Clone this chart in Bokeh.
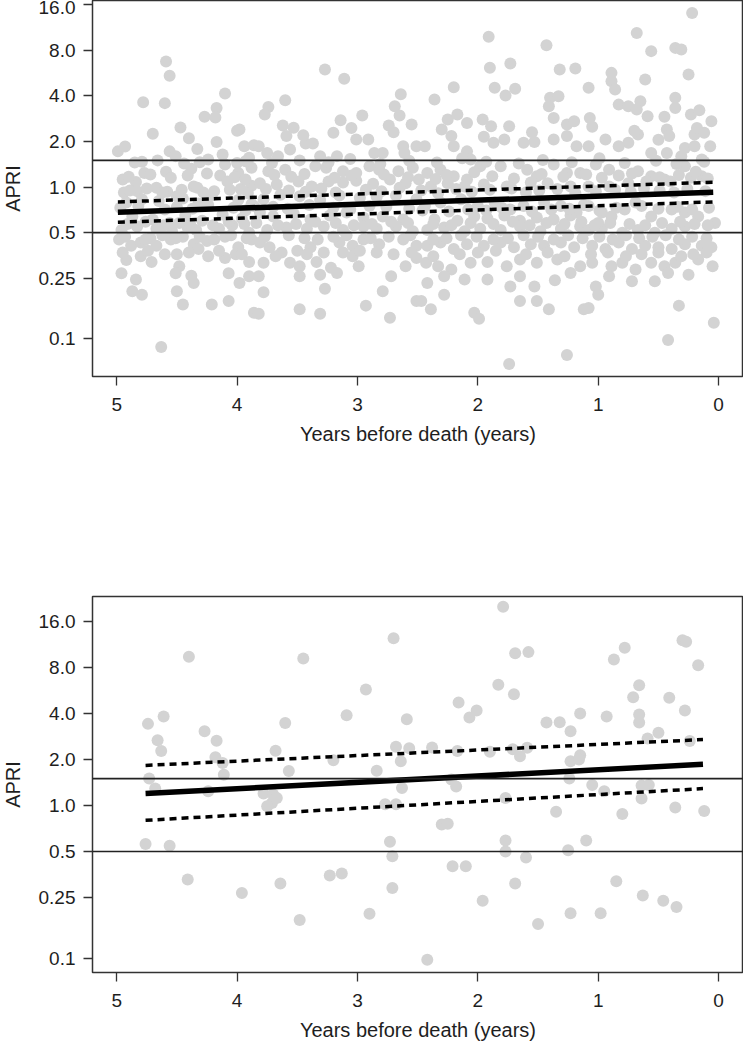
from bokeh.plotting import figure
from bokeh.models import Range1d, FixedTicker, Span
from bokeh.layouts import column
from bokeh.embed import file_html
from bokeh.resources import INLINE

# ---------------- data ----------------
y_ticks = [0.1, 0.25, 0.5, 1.0, 2.0, 4.0, 8.0, 16.0]
y_tick_labels = ["0.1", "0.25", "0.5", "1.0", "2.0", "4.0", "8.0", "16.0"]
x_ticks = [0, 1, 2, 3, 4, 5]
x_title = "Years before death (years)"
y_title = "APRI"
ref_levels = [0.5, 1.5]

top_years = [
    4.59, 4.56, 4.78, 4.60, 4.10, 4.17, 4.27, 4.18, 4.47, 3.98, 4.17, 4.33, 3.94, 3.86, 4.99, 4.93, 4.56, 4.51,
    4.79, 4.77, 4.59, 4.38, 4.31, 4.12, 4.10, 4.00, 3.90, 3.88, 3.99,
    4.95, 4.84, 4.94, 4.83, 4.67, 4.58, 4.50, 4.36, 4.28, 4.21, 4.14, 4.08, 4.06, 3.97, 3.88,
    4.92, 4.79, 4.65, 4.45, 4.32, 3.99, 3.88,
    4.87, 4.70, 4.56, 4.43, 4.29, 4.12, 3.96,
    4.96, 4.83, 4.67, 4.54, 4.41, 4.34, 4.15, 4.04, 3.90,
    4.98, 4.88, 4.80, 4.72, 4.67, 4.55, 4.45, 4.36, 4.25, 4.10, 3.99, 3.88,
    4.92, 4.80, 4.71, 4.50, 4.48, 4.32, 4.10, 4.01, 3.90,
    4.96, 4.84, 4.51, 4.38, 4.36, 4.07, 3.98, 3.90,
    4.87, 4.79, 4.50, 4.45, 4.21, 4.07, 3.86, 4.63,
    3.27, 3.11, 3.60, 3.74, 3.77, 2.64, 2.69, 2.65, 2.96, 3.14, 2.74, 2.55, 3.62, 3.53, 3.59, 3.20, 3.01, 2.91,
    3.43, 3.37, 3.82, 3.56, 3.75, 2.62, 2.61, 2.51, 3.31, 3.17, 2.86, 2.79, 3.66,
    3.74, 3.60, 3.35, 3.26, 3.12, 3.01, 2.90, 2.82, 2.66, 2.54,
    3.81, 3.67, 3.49, 3.38, 3.24, 3.12, 3.01, 2.87, 2.73, 2.60, 2.49,
    3.78, 3.64, 3.48, 3.31, 3.15, 2.98, 2.84, 2.68, 2.51,
    3.81, 3.70, 3.53, 3.39, 3.23, 3.09, 2.95, 2.79, 2.62,
    3.75, 3.59, 3.42, 3.28, 3.12, 2.95, 2.84, 2.68, 2.54,
    3.81, 3.73, 3.63, 3.50, 3.39, 3.28, 3.15, 3.04, 2.95, 2.82, 2.62, 2.51,
    3.78, 3.56, 3.48, 3.34, 3.22, 3.04, 2.84, 2.60, 2.51,
    3.82, 3.48, 3.31, 3.17, 2.99, 2.72,
    3.78, 3.27, 2.79, 2.51,
    3.82, 3.48, 3.31, 2.93, 2.73,
    1.91, 1.43, 1.90, 1.73, 1.32, 1.19, 2.20, 1.86, 1.77, 1.69, 2.36, 1.40, 1.41, 1.33, 1.37, 2.25, 2.17, 2.09,
    1.96, 1.89, 1.74, 1.26, 1.20, 2.44, 2.22, 2.20, 2.09, 1.87, 1.78, 1.62, 1.53, 1.37, 1.26, 1.18, 2.06,
    2.42, 2.31, 2.20, 2.09, 1.98, 1.81, 1.59, 1.51, 1.37, 1.26, 1.15,
    2.39, 2.25, 2.11, 1.95, 1.76, 1.56, 1.42, 1.23,
    2.44, 2.31, 2.14, 2.00, 1.86, 1.73, 1.62, 1.45, 1.31, 1.18,
    2.36, 2.17, 2.03, 1.92, 1.78, 1.65, 1.51, 1.37, 1.23,
    2.42, 2.28, 2.11, 1.98, 1.81, 1.65, 1.48, 1.31, 1.15,
    2.42, 2.31, 2.20, 2.09, 1.95, 1.81, 1.70, 1.56, 1.45, 1.31, 1.20,
    2.43, 2.33, 2.22, 2.06, 1.92, 1.76, 1.65, 1.51, 1.34, 1.15,
    2.42, 2.28, 2.11, 1.92, 1.73, 1.65, 1.53, 1.36, 1.23,
    2.28, 2.47, 2.39, 2.03, 1.99, 1.65, 1.51, 1.41, 1.12, 1.74, 1.26,
    0.22, 0.68, 0.56, 0.36, 0.31, 0.25, 0.61, 0.89, 0.89, 0.86, 1.08, 0.36, 0.36, 0.83, 0.75, 0.65, 0.68, 0.59,
    0.45, 0.23, 0.16, 0.06, 1.07, 0.20, 0.12, 0.43, 0.41, 0.67, 0.75, 0.83, 0.94, 1.08, 0.56, 0.43, 0.28, 0.20,
    0.07, 0.31, 0.14,
    1.02, 0.91, 0.67, 0.56, 0.45, 0.28, 0.14,
    1.08, 0.91, 0.75, 0.60, 0.40, 0.23,
    1.08, 0.97, 0.89, 0.78, 0.69, 0.56, 0.39, 0.28, 0.17, 0.03,
    1.08, 0.97, 0.80, 0.67, 0.53, 0.39, 0.28, 1.00,
    1.05, 0.94, 0.83, 0.72, 0.61, 0.50, 0.39, 0.28, 0.14, 0.06,
    1.05, 0.89, 0.80, 0.69, 0.56, 0.45, 0.36, 0.17, 0.05,
    1.02, 0.91, 0.72, 0.53, 0.42, 0.25,
    1.00, 1.08, 0.33, 0.04, 0.42,
    4.90, 4.72, 4.55, 4.41, 4.25, 4.02, 3.93, 3.69, 3.55, 3.44, 3.19, 3.05, 2.78, 2.58, 2.35, 2.26, 2.03, 1.88,
    1.70, 1.47, 1.29, 1.10, 0.97, 0.83, 0.72, 0.49, 0.33, 0.19, 0.09,
    4.89, 4.75, 4.62, 4.46, 4.33, 4.19, 3.91, 3.76, 3.57, 3.43, 3.30, 3.18, 2.93, 2.80, 2.65, 2.47, 2.33, 2.18,
    2.05, 1.90, 1.72, 1.60, 1.49, 1.34, 1.19, 1.02, 0.86, 0.73, 0.62, 0.49, 0.37, 0.26, 0.11,
    4.97, 4.82, 4.60, 4.50, 4.37, 4.24, 4.03, 3.93, 3.86, 3.70, 3.58, 3.40, 3.20, 3.06, 2.90, 2.76, 2.57, 2.46,
    2.24, 2.08, 1.93, 1.80, 1.55, 1.39, 1.24, 1.12, 0.99, 0.85, 0.64, 0.50, 0.34, 0.22, 0.08,
    4.91, 4.76, 4.61, 4.48, 4.39, 4.20, 4.07, 3.94, 3.84, 3.66, 3.51, 3.35, 3.18, 3.03, 2.88, 2.72, 2.58, 2.37,
    2.22, 2.06, 1.87, 1.71, 1.57, 1.43, 1.28, 1.14, 1.03, 0.90, 0.74, 0.61, 0.47, 0.32, 0.20, 0.09,
    4.93, 4.76, 4.62, 4.51, 4.31, 4.19, 4.05, 3.92, 3.77, 3.57, 3.44, 3.33, 3.20, 3.09, 2.89, 2.74, 2.56, 2.37,
    2.26, 2.14, 2.01, 1.87, 1.75, 1.62, 1.50, 1.37, 1.25, 1.13, 0.99, 0.88, 0.77, 0.66, 0.55, 0.44, 0.33, 0.22, 0.10,
    4.95, 4.74, 4.60, 4.40, 4.24, 4.15, 3.96, 3.68, 3.42, 3.12, 2.98, 2.70, 2.55, 2.37, 2.15, 2.00, 1.85, 1.60,
    1.42, 1.28, 1.06, 0.92, 0.77, 0.64, 0.50, 0.31, 0.21, 0.10,
    4.85, 4.66, 4.44, 4.24, 3.93, 3.71, 3.48, 3.24, 3.06, 2.81, 2.57, 2.34, 2.13, 1.93, 1.66, 1.46, 1.22, 0.99,
    0.78, 0.52, 0.35, 0.12,
    4.70, 4.40, 4.00, 3.45, 3.05, 2.70, 2.30, 1.95, 1.55, 1.05, 0.70, 0.50, 0.18,
]
top_apri = [
    6.74, 5.42, 3.63, 3.58, 4.14, 3.33, 2.91, 2.88, 2.47, 2.40, 1.98, 1.78, 1.86, 1.89, 1.72, 1.85, 1.72, 1.60,
    1.47, 1.24, 1.26, 1.32, 1.46, 1.64, 1.41, 1.44, 1.56, 1.34, 1.24,
    1.12, 1.08, 0.92, 0.94, 0.99, 0.93, 0.87, 1.01, 0.92, 0.88, 1.19, 1.09, 0.96, 0.97, 1.02,
    0.79, 0.83, 0.81, 0.84, 0.78, 0.82, 0.77,
    0.64, 0.61, 0.58, 0.65, 0.60, 0.66, 0.62,
    0.52, 0.55, 0.53, 0.51, 0.54, 0.52, 0.53, 0.56, 0.50,
    0.45, 0.41, 0.43, 0.46, 0.41, 0.45, 0.47, 0.42, 0.44, 0.47, 0.40, 0.45,
    0.33, 0.35, 0.32, 0.36, 0.30, 0.39, 0.34, 0.36, 0.32,
    0.27, 0.245, 0.27, 0.26, 0.233, 0.27, 0.233, 0.258,
    0.205, 0.195, 0.205, 0.168, 0.168, 0.177, 0.148, 0.088,
    5.97, 5.18, 3.74, 3.38, 3.01, 4.10, 3.42, 2.97, 2.97, 2.76, 2.55, 2.59, 2.55, 2.46, 2.17, 2.28, 2.06, 2.06,
    1.94, 1.94, 1.86, 1.77, 1.68, 1.86, 1.68, 1.86, 1.60, 1.60, 1.68, 1.68, 1.60,
    1.27, 1.30, 1.37, 1.34, 1.27, 1.24, 1.37, 1.30, 1.27, 1.34,
    1.06, 1.04, 1.09, 1.01, 1.09, 1.07, 1.10, 1.05, 1.12, 1.06, 1.12,
    0.83, 0.89, 0.87, 0.82, 0.88, 0.85, 0.86, 0.88, 0.83,
    0.68, 0.64, 0.67, 0.61, 0.65, 0.68, 0.63, 0.64, 0.61,
    0.52, 0.54, 0.53, 0.55, 0.52, 0.55, 0.53, 0.55, 0.51,
    0.43, 0.40, 0.37, 0.38, 0.40, 0.37, 0.43, 0.41, 0.45, 0.42, 0.45, 0.41,
    0.316, 0.316, 0.30, 0.32, 0.293, 0.35, 0.37, 0.30, 0.34,
    0.258, 0.258, 0.264, 0.271, 0.30, 0.258,
    0.202, 0.213, 0.205, 0.177,
    0.146, 0.156, 0.146, 0.165, 0.137,
    9.80, 8.63, 6.12, 6.53, 5.97, 6.06, 4.56, 4.52, 4.02, 4.45, 3.78, 3.88, 3.42, 3.97, 2.86, 2.79, 3.01, 2.65,
    2.79, 2.52, 2.52, 2.59, 2.72, 1.86, 2.17, 1.86, 1.72, 1.96, 2.06, 1.96, 1.98, 2.06, 2.17, 1.86, 1.52,
    1.24, 1.30, 1.18, 1.12, 1.37, 1.37, 1.30, 1.18, 1.41, 1.24, 1.24,
    1.01, 1.06, 1.01, 1.04, 1.01, 1.07, 1.06, 1.01,
    0.75, 0.79, 0.83, 0.75, 0.79, 0.71, 0.75, 0.79, 0.75, 0.68,
    0.61, 0.60, 0.64, 0.62, 0.65, 0.60, 0.63, 0.61, 0.65,
    0.52, 0.54, 0.51, 0.53, 0.52, 0.55, 0.51, 0.53, 0.55,
    0.41, 0.43, 0.39, 0.42, 0.41, 0.43, 0.40, 0.42, 0.41, 0.43, 0.40,
    0.316, 0.30, 0.286, 0.316, 0.32, 0.30, 0.332, 0.316, 0.332, 0.30,
    0.233, 0.258, 0.245, 0.245, 0.221, 0.258, 0.221, 0.243, 0.271,
    0.195, 0.177, 0.156, 0.148, 0.135, 0.177, 0.177, 0.156, 0.156, 0.068, 0.078,
    14.1, 10.4, 7.89, 8.29, 8.08, 5.53, 5.13, 5.67, 5.00, 4.40, 4.52, 3.88, 3.33, 3.50, 3.42, 3.69, 3.25, 2.93,
    2.91, 3.01, 3.21, 2.72, 2.86, 2.22, 2.28, 2.40, 2.17, 2.22, 1.96, 1.86, 2.06, 1.86, 1.68, 1.68, 1.81, 1.86,
    1.86, 1.60, 1.52,
    1.41, 1.30, 1.27, 1.18, 1.12, 1.37, 1.18,
    1.01, 1.01, 1.06, 1.09, 1.09, 1.15,
    0.75, 0.68, 0.64, 0.71, 0.79, 0.64, 0.71, 0.68, 0.64, 0.58,
    0.52, 0.53, 0.50, 0.52, 0.50, 0.53, 0.55, 0.58,
    0.41, 0.39, 0.43, 0.39, 0.41, 0.40, 0.39, 0.42, 0.41, 0.40,
    0.316, 0.30, 0.316, 0.286, 0.316, 0.30, 0.316, 0.332, 0.30,
    0.221, 0.258, 0.239, 0.239, 0.271, 0.264,
    0.195, 0.159, 0.165, 0.127, 0.098,
    1.17, 1.21, 1.15, 1.19, 1.23, 1.16, 1.12, 1.20, 1.17, 1.22, 1.15, 1.19, 1.21, 1.16, 1.13, 1.20, 1.25, 1.18,
    1.14, 1.22, 1.17, 1.21, 1.15, 1.19, 1.23, 1.16, 1.20, 1.26, 1.14,
    0.95, 0.98, 0.92, 0.96, 0.99, 0.94, 0.91, 0.97, 0.95, 0.93, 0.98, 0.92, 0.96, 0.94, 0.99, 0.95, 0.91, 0.97,
    0.93, 0.96, 0.98, 0.92, 0.95, 0.97, 0.91, 0.94, 0.96, 0.93, 0.98, 0.95, 0.92, 0.97, 0.94,
    0.73, 0.75, 0.71, 0.74, 0.72, 0.76, 0.73, 0.70, 0.75, 0.74, 0.72, 0.76, 0.73, 0.71, 0.75, 0.74, 0.72, 0.70,
    0.69, 0.71, 0.70, 0.73, 0.69, 0.71, 0.72, 0.76, 0.70, 0.73, 0.75, 0.72, 0.74, 0.71, 0.73,
    0.57, 0.59, 0.56, 0.58, 0.57, 0.56, 0.59, 0.57, 0.58, 0.56, 0.57, 0.59, 0.58, 0.56, 0.57, 0.59, 0.58, 0.57,
    0.56, 0.58, 0.57, 0.59, 0.56, 0.58, 0.57, 0.59, 0.56, 0.58, 0.57, 0.56, 0.58, 0.59, 0.57, 0.56,
    0.47, 0.45, 0.48, 0.46, 0.47, 0.45, 0.48, 0.46, 0.47, 0.48, 0.46, 0.45, 0.47, 0.48, 0.46, 0.47, 0.48, 0.45,
    0.46, 0.48, 0.47, 0.45, 0.46, 0.48, 0.47, 0.45, 0.48, 0.46, 0.47, 0.45, 0.48, 0.46, 0.47, 0.48, 0.45, 0.47, 0.46,
    0.37, 0.38, 0.36, 0.37, 0.35, 0.38, 0.36, 0.35, 0.36, 0.37, 0.38, 0.36, 0.37, 0.35, 0.36, 0.37, 0.38, 0.36,
    0.37, 0.35, 0.36, 0.37, 0.35, 0.36, 0.37, 0.35, 0.36, 0.37,
    1.45, 1.50, 1.43, 1.52, 1.48, 1.44, 1.50, 1.46, 1.53, 1.42, 1.49, 1.45, 1.55, 1.47, 1.43, 1.51, 1.46, 1.55,
    1.44, 1.49, 1.42, 1.47,
    2.25, 2.10, 2.35, 2.20, 2.45, 2.30, 2.40, 2.15, 2.30, 2.50, 2.35, 2.05, 2.45,
]
top_fit_years = [4.99, 0.045]
top_fit = [0.682, 0.924]
top_upper = [0.798, 1.075]
top_lower = [0.586, 0.798]

bottom_years = [
    4.40, 3.45, 2.70, 2.93, 4.74, 4.61, 4.66, 4.63, 4.27, 4.17, 4.18, 4.12, 4.11, 3.60, 3.68, 3.57, 3.09, 2.59,
    2.68, 2.57, 2.64, 3.20, 2.84, 4.73, 4.68, 4.24, 3.78, 3.70, 3.67, 3.71, 3.75, 2.63, 2.77, 2.68, 4.76, 4.56,
    2.73, 2.71, 4.41, 3.96, 3.64, 3.23, 3.13, 2.71, 2.90, 3.48,
    1.79, 1.69, 1.58, 1.83, 1.70, 2.16, 2.01, 2.07, 1.43, 1.32, 1.15, 1.23, 0.93, 0.87, 0.78, 0.30, 0.27, 0.17,
    0.66, 0.71, 0.41, 0.66, 0.66, 0.28, 0.50, 0.59, 0.24, 2.38, 2.17, 1.90, 1.71, 1.65, 1.59, 1.23, 1.15, 1.16,
    1.24, 2.22, 2.18, 1.77, 1.05, 0.95, 0.64, 0.58, 0.64, 0.36, 0.12, 1.35, 0.80, 2.30, 2.25, 1.77, 1.77, 1.60,
    1.25, 1.10, 2.21, 2.10, 1.69, 1.96, 0.85, 0.63, 0.46, 0.35, 1.23, 0.98, 1.50, 2.42,
]
bottom_apri = [
    9.40, 9.16, 12.44, 5.74, 3.42, 3.82, 2.67, 2.27, 3.06, 2.65, 2.07, 1.90, 1.59, 3.46, 2.28, 1.68, 3.90, 3.67,
    2.42, 2.37, 1.95, 1.98, 1.69, 1.50, 1.29, 1.24, 1.20, 1.18, 1.12, 1.04, 0.99, 1.30, 1.02, 1.02, 0.56, 0.545,
    0.58, 0.466, 0.328, 0.268, 0.309, 0.348, 0.359, 0.289, 0.196, 0.178,
    20.0, 9.92, 10.08, 6.16, 5.35, 4.72, 4.18, 3.77, 3.49, 3.51, 4.00, 3.06, 3.82, 9.03, 10.77, 12.07, 11.79, 8.28,
    6.13, 5.11, 5.07, 3.94, 3.49, 4.18, 2.99, 2.74, 2.64, 2.40, 2.27, 2.25, 2.33, 2.10, 2.39, 1.95, 2.13, 2.00,
    1.50, 1.48, 1.33, 1.12, 1.36, 1.24, 1.35, 1.36, 1.11, 0.97, 0.92, 0.91, 0.88, 0.75, 0.76, 0.59, 0.50, 0.457,
    0.51, 0.59, 0.40, 0.40, 0.309, 0.238, 0.32, 0.258, 0.238, 0.217, 0.197, 0.197, 0.168, 0.098,
]
bottom_fit_years = [4.76, 0.13]
bottom_fit = [1.20, 1.86]
bottom_upper = [1.83, 2.70]
bottom_lower = [0.80, 1.29]

FONT = "Liberation Sans"
INK = "#1e1e1e"


def make_panel(years, apri, fit_years, fit, upper, lower, y_lo, y_hi, height, border_top, border_bottom):
    n = min(len(years), len(apri))
    p = figure(width=745, height=height,
               x_range=Range1d(5.2008, -0.2066), y_range=Range1d(y_lo, y_hi),
               y_axis_type="log", output_backend="svg", toolbar_location=None,
               min_border_left=89, min_border_right=0,
               min_border_top=border_top, min_border_bottom=border_bottom)
    p.grid.visible = False
    p.outline_line_color = "#333333"
    p.outline_line_width = 1.5
    p.background_fill_color = "white"
    p.border_fill_color = "white"

    p.scatter(years[:n], apri[:n], size=12, fill_color="#d3d3d3", line_color=None)
    for lv in ref_levels:
        p.add_layout(Span(location=lv, dimension="width", line_color="#222222", line_width=1.6))
    p.line(fit_years, upper, line_color="black", line_width=3.5, line_dash="7 5")
    p.line(fit_years, lower, line_color="black", line_width=3.5, line_dash="7 5")
    p.line(fit_years, fit, line_color="black", line_width=5.5)

    p.yaxis.ticker = FixedTicker(ticks=y_ticks)
    p.yaxis.major_label_overrides = dict(zip(y_ticks, y_tick_labels))
    p.xaxis.ticker = FixedTicker(ticks=x_ticks)
    p.xaxis.axis_label = x_title
    p.yaxis.axis_label = y_title
    for ax in (p.xaxis[0], p.yaxis[0]):
        ax.axis_line_color = None
        ax.major_tick_line_color = "#333333"
        ax.major_tick_line_width = 1.3
        ax.major_tick_in = 0
        ax.major_tick_out = 9
        ax.minor_tick_line_color = None
        ax.major_label_text_font = FONT
        ax.major_label_text_font_size = "19px"
        ax.major_label_text_color = INK
        ax.axis_label_text_font = FONT
        ax.axis_label_text_font_size = "20px"
        ax.axis_label_text_font_style = "normal"
        ax.axis_label_text_color = INK
    p.yaxis.major_label_standoff = 8
    p.yaxis.axis_label_standoff = 12
    p.xaxis.major_label_standoff = 12
    p.xaxis.axis_label_standoff = 9
    return p


p1 = make_panel(top_years, top_apri, top_fit_years, top_fit, top_upper, top_lower,
                0.0562, 17.03, 496, 0, 120)
p2 = make_panel(bottom_years, bottom_apri, bottom_fit_years, bottom_fit, bottom_upper, bottom_lower,
                0.0808, 23.3, 548, 100, 72)

layout = column(p1, p2, styles={"margin-top": "0px", "margin-left": "-2px",
                                "margin-right": "-14px", "margin-bottom": "-20px"})
open("out.html", "w").write(file_html(layout, INLINE))
